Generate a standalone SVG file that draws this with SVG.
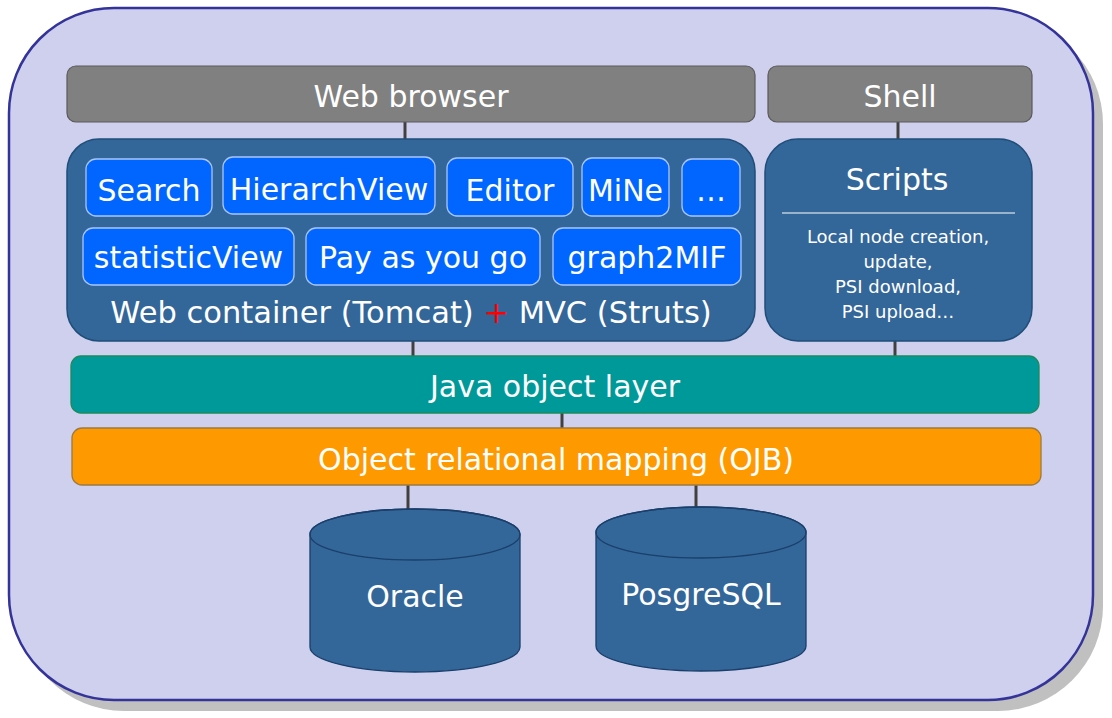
<svg xmlns="http://www.w3.org/2000/svg" width="1112" height="718" viewBox="0 0 1112 718">
<style>
text{font-family:"DejaVu Sans","Verdana",sans-serif;fill:#ffffff;text-anchor:middle}
.t30{font-size:30px}
.t17{font-size:18px}
.gray{fill:#808080;stroke:#5a5a5a;stroke-width:1.2}
.cont{fill:#336699;stroke:#1f4e79;stroke-width:1.5}
.btn{fill:#0066ff;stroke:#a9c6ff;stroke-width:1.3}
.conn{stroke:#404040;stroke-width:3;fill:none}
.db{fill:#336699;stroke:#1a3f6a;stroke-width:1.3}
</style>
<rect x="19" y="19" width="1084" height="692" rx="105" ry="105" fill="#c0c0c0"/>
<rect id="frame" x="9" y="8" width="1084" height="692" rx="105" ry="105" fill="#cfcfee" stroke="#333399" stroke-width="2.5"/>
<g id="connectors">
<line class="conn" x1="405" y1="122" x2="405" y2="140"/>
<line class="conn" x1="898" y1="122" x2="898" y2="140"/>
<line class="conn" x1="413" y1="340" x2="413" y2="357"/>
<line class="conn" x1="895" y1="340" x2="895" y2="357"/>
<line class="conn" x1="562" y1="412" x2="562" y2="429"/>
<line class="conn" x1="408" y1="485" x2="408" y2="510"/>
<line class="conn" x1="696" y1="485" x2="696" y2="508"/>
</g>
<g id="webbrowser">
<rect class="gray" x="67" y="66" width="688" height="56" rx="9"/>
<text class="t30" x="411" y="107">Web browser</text>
</g>
<g id="shell">
<rect class="gray" x="768" y="66" width="264" height="56" rx="9"/>
<text class="t30" x="900" y="107">Shell</text>
</g>
<g id="webcontainer">
<rect class="cont" x="67" y="139" width="688" height="202" rx="32"/>
<text class="t30" x="411" y="323" style="font-size:30.5px">Web container (Tomcat) <tspan style="fill:#ff0000">+</tspan> MVC (Struts)</text>
</g>
<g id="search">
<rect class="btn" x="86" y="159" width="126" height="57" rx="10"/>
<text class="t30" x="149" y="201">Search</text>
</g>
<g id="hierarchview">
<rect class="btn" x="223" y="157" width="212" height="57" rx="10"/>
<text class="t30" x="329" y="200">HierarchView</text>
</g>
<g id="editor">
<rect class="btn" x="447" y="158" width="126" height="58" rx="10"/>
<text class="t30" x="510" y="201">Editor</text>
</g>
<g id="mine">
<rect class="btn" x="582" y="158" width="87" height="58" rx="10"/>
<text class="t30" x="625.5" y="201">MiNe</text>
</g>
<g id="more">
<rect class="btn" x="682" y="159" width="58" height="57" rx="10"/>
<text class="t30" x="711" y="201">…</text>
</g>
<g id="statisticview">
<rect class="btn" x="83" y="228" width="211" height="57" rx="10"/>
<text class="t30" x="188.5" y="268">statisticView</text>
</g>
<g id="payasyougo">
<rect class="btn" x="306" y="228" width="234" height="57" rx="10"/>
<text class="t30" x="423" y="268">Pay as you go</text>
</g>
<g id="graph2mif">
<rect class="btn" x="553" y="228" width="188" height="57" rx="10"/>
<text class="t30" x="647" y="268">graph2MIF</text>
</g>
<g id="scripts">
<rect class="cont" x="765" y="139" width="267" height="202" rx="33"/>
<text class="t30" x="897" y="190">Scripts</text>
<line x1="782" y1="213" x2="1015" y2="213" stroke="#ffffff" stroke-width="1.2"/>
<text class="t17" x="898" y="243">Local node creation,</text>
<text class="t17" x="898" y="268">update,</text>
<text class="t17" x="898" y="293">PSI download,</text>
<text class="t17" x="898" y="318">PSI upload…</text>
</g>
<g id="javaobjectlayer">
<rect x="71" y="356" width="968" height="57" rx="10" fill="#009999" stroke="#1b8a5c" stroke-width="1.3"/>
<text class="t30" x="555" y="397">Java object layer</text>
</g>
<g id="orm">
<rect x="72" y="428" width="969" height="57" rx="10" fill="#ff9900" stroke="#9c7a40" stroke-width="1.3"/>
<text class="t30" x="556" y="470">Object relational mapping (OJB)</text>
</g>
<g id="oracle">
<path class="db" d="M310,534.5 A105,25.5 0 0 1 520,534.5 L520,647 A105,25 0 0 1 310,647 Z"/>
<ellipse cx="415" cy="534.5" rx="105" ry="25.5" fill="none" stroke="#1a3f6a" stroke-width="1.3"/>
<text class="t30" x="415" y="607">Oracle</text>
</g>
<g id="posgresql">
<path class="db" d="M596,532.5 A105,25.5 0 0 1 806,532.5 L806,646 A105,25 0 0 1 596,646 Z"/>
<ellipse cx="701" cy="532.5" rx="105" ry="25.5" fill="none" stroke="#1a3f6a" stroke-width="1.3"/>
<text class="t30" x="701" y="605">PosgreSQL</text>
</g>
</svg>
